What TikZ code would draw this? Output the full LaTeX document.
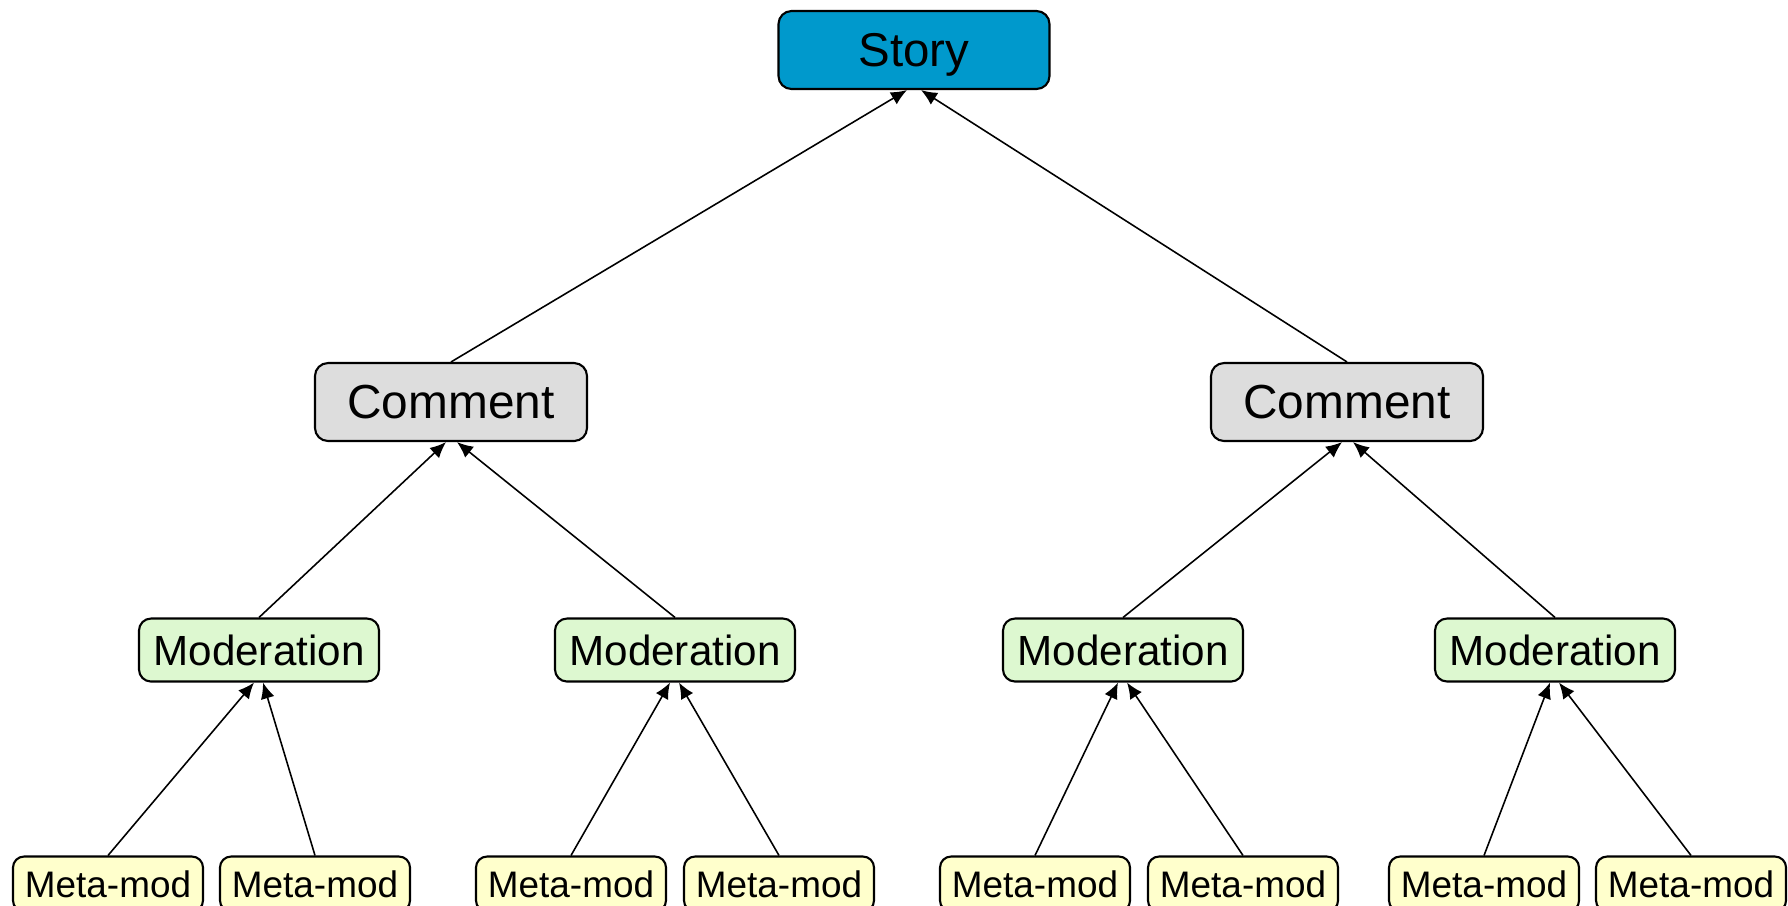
\documentclass[tikz,border=0pt]{standalone}
\usepackage{fontspec}
\setmainfont{Liberation Sans}
\usetikzlibrary{arrows.meta, positioning}
\definecolor{storyblue}{RGB}{0,153,204}
\definecolor{commentgray}{RGB}{221,221,221}
\definecolor{modgreen}{RGB}{221,248,208}
\definecolor{metayellow}{RGB}{255,255,204}
\tikzstyle{storybox} = [rectangle, rounded corners=1.3mm, minimum width=2.71cm, minimum height=0.78cm, inner sep=0pt, text depth=0pt, text centered, draw=black, line width=0.6pt, fill=storyblue, font=\fontsize{13.5}{16}\selectfont]
\tikzstyle{commentbox} = [rectangle, rounded corners=1.3mm, minimum width=2.72cm, minimum height=0.78cm, inner sep=0pt, text depth=0pt, text centered, draw=black, line width=0.6pt, fill=commentgray, font=\fontsize{13.6}{16}\selectfont]
\tikzstyle{modbox} = [rectangle, rounded corners=1.2mm, minimum width=2.40cm, minimum height=0.63cm, inner sep=0pt, text depth=0pt, text centered, draw=black, line width=0.6pt, fill=modgreen, font=\fontsize{12}{14}\selectfont]
\tikzstyle{metabox} = [rectangle, rounded corners=1.1mm, minimum width=1.90cm, minimum height=0.55cm, inner sep=0pt, text depth=0pt, text centered, draw=black, line width=0.6pt, fill=metayellow, font=\fontsize{10.5}{12}\selectfont]
\tikzstyle{up} = [-{Latex[length=1.6mm, width=1.4mm]}, line width=0.45pt]
\begin{document}
\begin{tikzpicture}[node distance=2.4cm]
\useasboundingbox (0,0) rectangle (17.88,-9.05);
\node (s) [storybox] at (9.14,-0.50) {Story};
\node (c1) [commentbox, below of=s, xshift=-4.63cm, yshift=-1.12cm] {Comment};
\node (c2) [commentbox, below of=s, xshift=4.33cm, yshift=-1.12cm] {Comment};
\node (m1) [modbox, below of=c1, xshift=-1.92cm, yshift=-0.08cm] {Moderation};
\node (m2) [modbox, below of=c1, xshift=2.24cm, yshift=-0.08cm] {Moderation};
\node (m3) [modbox, below of=c2, xshift=-2.24cm, yshift=-0.08cm] {Moderation};
\node (m4) [modbox, below of=c2, xshift=2.08cm, yshift=-0.08cm] {Moderation};
\node (mm1) [metabox, below of=m1, xshift=-1.51cm, yshift=0.06cm] {Meta-mod};
\node (mm2) [metabox, below of=m1, xshift=0.56cm, yshift=0.06cm] {Meta-mod};
\node (mm3) [metabox, below of=m2, xshift=-1.04cm, yshift=0.06cm] {Meta-mod};
\node (mm4) [metabox, below of=m2, xshift=1.04cm, yshift=0.06cm] {Meta-mod};
\node (mm5) [metabox, below of=m3, xshift=-0.88cm, yshift=0.06cm] {Meta-mod};
\node (mm6) [metabox, below of=m3, xshift=1.20cm, yshift=0.06cm] {Meta-mod};
\node (mm7) [metabox, below of=m4, xshift=-0.71cm, yshift=0.06cm] {Meta-mod};
\node (mm8) [metabox, below of=m4, xshift=1.36cm, yshift=0.06cm] {Meta-mod};
\draw [up] (c1.north) -- ([xshift=-0.7mm]s.south);
\draw [up] (c2.north) -- ([xshift=0.7mm]s.south);
\draw [up] (m1.north) -- ([xshift=-0.5mm]c1.south);
\draw [up] (m2.north) -- ([xshift=0.6mm]c1.south);
\draw [up] (m3.north) -- ([xshift=-0.5mm]c2.south);
\draw [up] (m4.north) -- ([xshift=0.6mm]c2.south);
\draw [up] (mm1.north) -- ([xshift=-0.5mm]m1.south);
\draw [up] (mm2.north) -- ([xshift=0.4mm]m1.south);
\draw [up] (mm3.north) -- ([xshift=-0.5mm]m2.south);
\draw [up] (mm4.north) -- ([xshift=0.4mm]m2.south);
\draw [up] (mm5.north) -- ([xshift=-0.5mm]m3.south);
\draw [up] (mm6.north) -- ([xshift=0.4mm]m3.south);
\draw [up] (mm7.north) -- ([xshift=-0.5mm]m4.south);
\draw [up] (mm8.north) -- ([xshift=0.4mm]m4.south);
\end{tikzpicture}
\end{document}
